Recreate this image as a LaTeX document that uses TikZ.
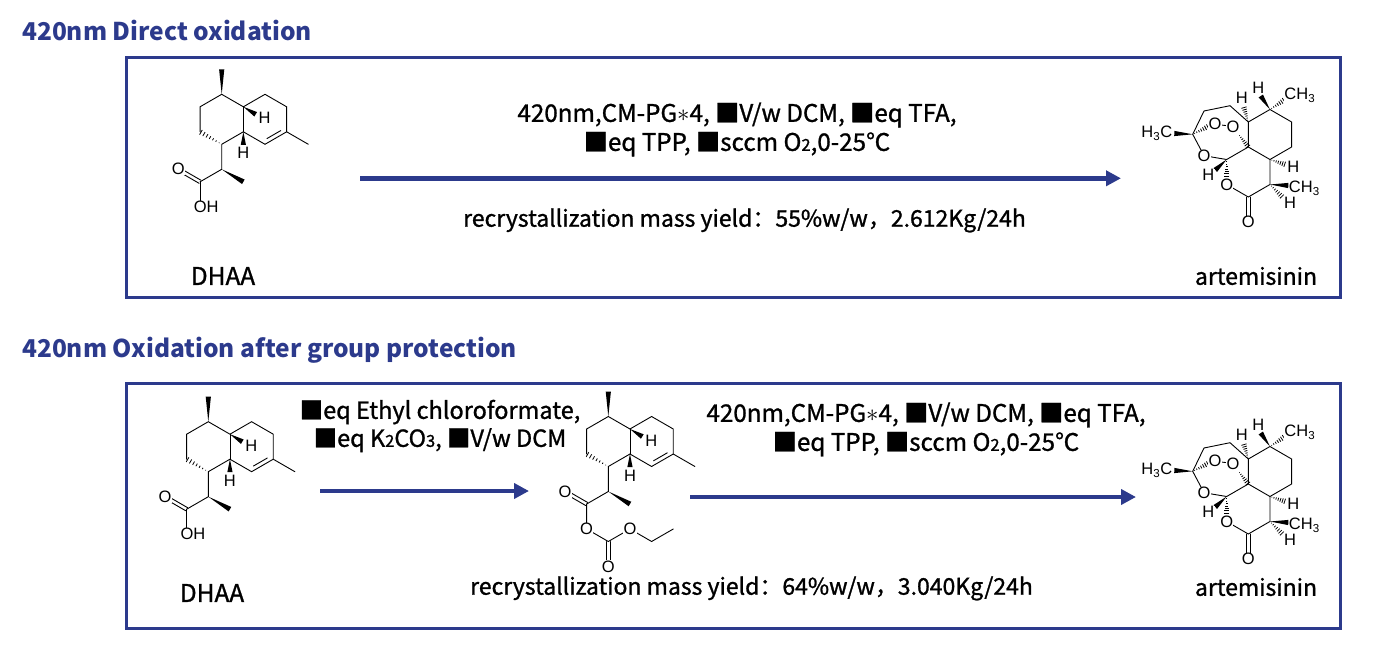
\documentclass[tikz,border=0pt]{standalone}
\usepackage{fontspec}
\setmainfont{Noto Sans CJK SC}
\newfontfamily\condfamily[FakeBold=1.1]{Noto Sans CJK SC}
\newfontfamily\atomfamily{Liberation Sans}
\usetikzlibrary{calc,arrows.meta}
\definecolor{schemeblue}{RGB}{44,58,140}

\newcommand{\sub}[1]{{\fontsize{16.5}{16.5}\selectfont #1}}
% stereo bonds: narrow at #1, wide at #2
\newcommand{\wedgebond}[2]{\fill ($(#1)$) -- ($(#2)!2.6pt!90:(#1)$) -- ($(#2)!2.6pt!-90:(#1)$) -- cycle;}
\newcommand{\hashbond}[2]{\foreach \hh in {0.12,0.26,...,0.98}{\draw[line width=0.8pt] ($(#1)!\hh!(#2)!{\hh*2.8pt}!90:(#2)$) -- ($(#1)!\hh!(#2)!{\hh*2.8pt}!-90:(#2)$);}}
\newcommand{\dbond}[2]{\draw[bond] ($(#1)!1.8pt!90:(#2)$) -- ($(#2)!1.8pt!-90:(#1)$); \draw[bond] ($(#1)!1.8pt!-90:(#2)$) -- ($(#2)!1.8pt!90:(#1)$);}

% the bicyclic core shared by DHAA and its carbonate
\newcommand{\decalin}{%
  \coordinate (c4) at (0,0);
  \coordinate (me4) at (0,-25);
  \coordinate (c3) at (-21.65,12.5);
  \coordinate (c2) at (-21.65,37.5);
  \coordinate (c1) at (0,50);
  \coordinate (c8a) at (21.65,37.5);
  \coordinate (c4a) at (21.65,12.5);
  \coordinate (c5) at (43.3,0);
  \coordinate (c6) at (64.95,12.5);
  \coordinate (c7) at (64.95,37.5);
  \coordinate (c8) at (43.3,50);
  \coordinate (me7) at (86.6,50);
  \coordinate (c11) at (0,75);
  \coordinate (me11) at (21.65,87.5);
  \coordinate (c12) at (-21.65,87.5);
  \draw[bond] (c2) -- (c3) -- (c4) -- (c4a) -- (c5) -- (c6) -- (c7) -- (c8) -- (c8a) -- (c1) -- (c11) -- (c12);
  \draw[bond] (c4a) -- (c8a);
  \draw[bond] (c7) -- (me7);
  \draw[bond] (59.05,36.29) -- (45.2,44.29);
  \wedgebond{c4}{me4}
  \wedgebond{c11}{me11}
  \hashbond{c1}{c2}
  \wedgebond{c4a}{34,20}
  \wedgebond{c8a}{21.65,50.5}
  \node[atom] (h4a) at (43,24) {H};
  \node[atom] (h8a) at (21.65,59) {H};
}

% artemisinin, origin at the ring fusion carbon next to the peroxide
\newcommand{\artemisinin}{%
  \coordinate (a12a) at (0,0);
  \coordinate (a5a) at (0,-25);
  \coordinate (a6) at (21.65,-37.5);
  \coordinate (a7) at (43.3,-25);
  \coordinate (a8) at (43.3,0);
  \coordinate (a8a) at (21.65,12.5);
  \coordinate (a9) at (21.65,37.5);
  \coordinate (a10) at (0,50);
  \coordinate (o10) at (0,75);
  \coordinate (o11) at (-21.65,37.5);
  \coordinate (a12) at (-21.65,12.5);
  \coordinate (o13) at (-44.3,8.7);
  \coordinate (a3) at (-55.6,-12.7);
  \coordinate (a4) at (-44.3,-36);
  \coordinate (a5) at (-18.3,-41.3);
  \coordinate (op1) at (-33.3,-22.7);
  \coordinate (op2) at (-15.3,-20.3);
  \draw[bond] (a12a) -- (a5a) -- (a6) -- (a7) -- (a8) -- (a8a) -- (a12a) -- (a12) -- (o13) -- (a3) -- (a4) -- (a5) -- (a5a);
  \draw[bond] (a8a) -- (a9) -- (a10) -- (o11);
  \dbond{a10}{o10}
  \draw[bond] (-27.5,-22) -- (-21,-21.3);
  \hashbond{a12}{-21.65,30}
  \hashbond{a3}{-40,-20.5}
  \hashbond{-10,-13}{a12a}
  \hashbond{a5a}{-4.5,-40}
  \wedgebond{a6}{12.5,-51}
  \hashbond{a6}{36,-47}
  \hashbond{a8a}{37,17.5}
  \wedgebond{a9}{40,38.5}
  \hashbond{a9}{34,50}
  \wedgebond{a12}{-33,23}
  \wedgebond{a3}{-74,-13.5}
  \node[atom] (oc) at (o10) {O};
  \node[atom] (ol) at (o11) {O};
  \node[atom] (or) at (o13) {O};
  \node[atom] (oa) at (op1) {O};
  \node[atom] (ob) at (op2) {O};
  \node[atom] (h5a) at (-6.6,-48.7) {H};
  \node[atom] (h6) at (10,-59) {H};
  \node[atom] (h8a) at (45,19.7) {H};
  \node[atom] (h9) at (41.7,56) {H};
  \node[atom] (h12) at (-40,28) {H};
  \node[atom] (me6) at (51.5,-51.5) {CH\textsubscript{3}};
  \node[atom] (me9) at (56,41) {CH\textsubscript{3}};
  \node[atom] (me3) at (-91.5,-13.7) {H\textsubscript{3}C};
}

\tikzset{
  bond/.style={line width=0.9pt, line cap=round},
  atom/.style={font=\atomfamily\fontsize{16.5}{16.5}\selectfont, fill=white, inner sep=0.3pt},
  framebox/.style={schemeblue, line width=3pt},
  rxnarrow/.style={schemeblue, line width=4.6pt, -{Triangle[length=15pt,width=15pt]}},
  title/.style={schemeblue, anchor=west, font=\bfseries\fontsize{24.5}{24.5}\selectfont, inner sep=0pt},
  cond/.style={align=center, font=\condfamily\fontsize{24.2}{29}\selectfont, inner sep=0pt},
  yieldtext/.style={font=\condfamily\fontsize{23}{23}\selectfont, inner sep=0pt, text height=16pt, text depth=4pt},
  molname/.style={font=\condfamily\fontsize{23}{23}\selectfont, inner sep=0pt},
}

\begin{document}
\begin{tikzpicture}[x=1pt,y=-1pt]
  \useasboundingbox (0,0) rectangle (1394,650);

  % ---- direct oxidation
  \node[title] (title1) at (22,30) {420nm Direct oxidation};
  \draw[framebox] (126,58) rectangle (1340,297);

  \begin{scope}[shift={(221.7,94.3)}, name prefix=dhaa1-]
    \decalin
    \coordinate (ox) at (-43.3,75);
    \coordinate (oh) at (-21.65,112.5);
    \draw[bond] (c12) -- (oh);
    \dbond{c12}{ox}
    \node[atom] (o1) at (ox) {O};
    \node[atom, anchor=west] (o2) at (-28.3,112.5) {OH};
  \end{scope}
  \node[molname, font=\condfamily\fontsize{24.5}{24.5}\selectfont] (dhaa1) at (223,276) {DHAA};

  \node[cond] (cond1) at (737,129.5) {420nm,CM-PG$\ast$4, ■V/w DCM, ■eq TFA,\\■eq TPP, ■sccm O\sub{2},0-25℃};
  \coordinate (r1s) at (360,178.3);
  \coordinate (r1e) at (1121,178.3);
  \draw[rxnarrow] (r1s) -- (r1e);
  \node[yieldtext] (yield1) at (744.5,220.7) {recrystallization mass yield：55\%w/w，2.612Kg/24h};

  \begin{scope}[shift={(1248.3,147)}, name prefix=art1-]
    \artemisinin
  \end{scope}
  \node[molname] (art1) at (1256,276) {artemisinin};

  % ---- oxidation after protection
  \node[title] (title2) at (22,350) {420nm Oxidation after group protection};
  \draw[framebox] (126,383) rectangle (1340,628);

  \begin{scope}[shift={(208.3,421.7)}, name prefix=dhaa2-]
    \decalin
    \coordinate (ox) at (-43.3,75);
    \coordinate (oh) at (-21.65,112.5);
    \draw[bond] (c12) -- (oh);
    \dbond{c12}{ox}
    \node[atom] (o1) at (ox) {O};
    \node[atom, anchor=west] (o2) at (-28.3,112.5) {OH};
  \end{scope}
  \node[molname, font=\condfamily\fontsize{24.5}{24.5}\selectfont] (dhaa2) at (212,593) {DHAA};

  \node[cond, font=\condfamily\fontsize{23.5}{28}\selectfont] (cond2) at (440,426) {■eq Ethyl chloroformate,\\■eq K\sub{2}CO\sub{3}, ■V/w DCM};
  \coordinate (r2s) at (320,491);
  \coordinate (r2e) at (529,491);
  \draw[rxnarrow] (r2s) -- (r2e);

  \begin{scope}[shift={(608.3,416.5)}, name prefix=carb-]
    \decalin
    \coordinate (ox) at (-43.3,75);
    \coordinate (oa) at (-21.65,112.5);
    \coordinate (cc) at (0,125);
    \coordinate (ob) at (0,150);
    \coordinate (oe) at (21.65,112.5);
    \coordinate (ch2) at (43.3,125);
    \coordinate (ch3) at (64.95,112.5);
    \draw[bond] (c12) -- (oa) -- (cc) -- (oe) -- (ch2) -- (ch3);
    \dbond{c12}{ox}
    \dbond{cc}{ob}
    \node[atom] (o1) at (ox) {O};
    \node[atom] (o2) at (oa) {O};
    \node[atom] (o3) at (ob) {O};
    \node[atom] (o4) at (oe) {O};
  \end{scope}

  \node[cond] (cond3) at (926,429.5) {420nm,CM-PG$\ast$4, ■V/w DCM, ■eq TFA,\\■eq TPP, ■sccm O\sub{2},0-25℃};
  \coordinate (r3s) at (690,497);
  \coordinate (r3e) at (1136,497);
  \draw[rxnarrow] (r3s) -- (r3e);
  \node[yieldtext] (yield2) at (751.5,588.7) {recrystallization mass yield：64\%w/w，3.040Kg/24h};

  \begin{scope}[shift={(1248.3,484)}, name prefix=art2-]
    \artemisinin
  \end{scope}
  \node[molname] (art2) at (1256,587) {artemisinin};
\end{tikzpicture}
\end{document}
